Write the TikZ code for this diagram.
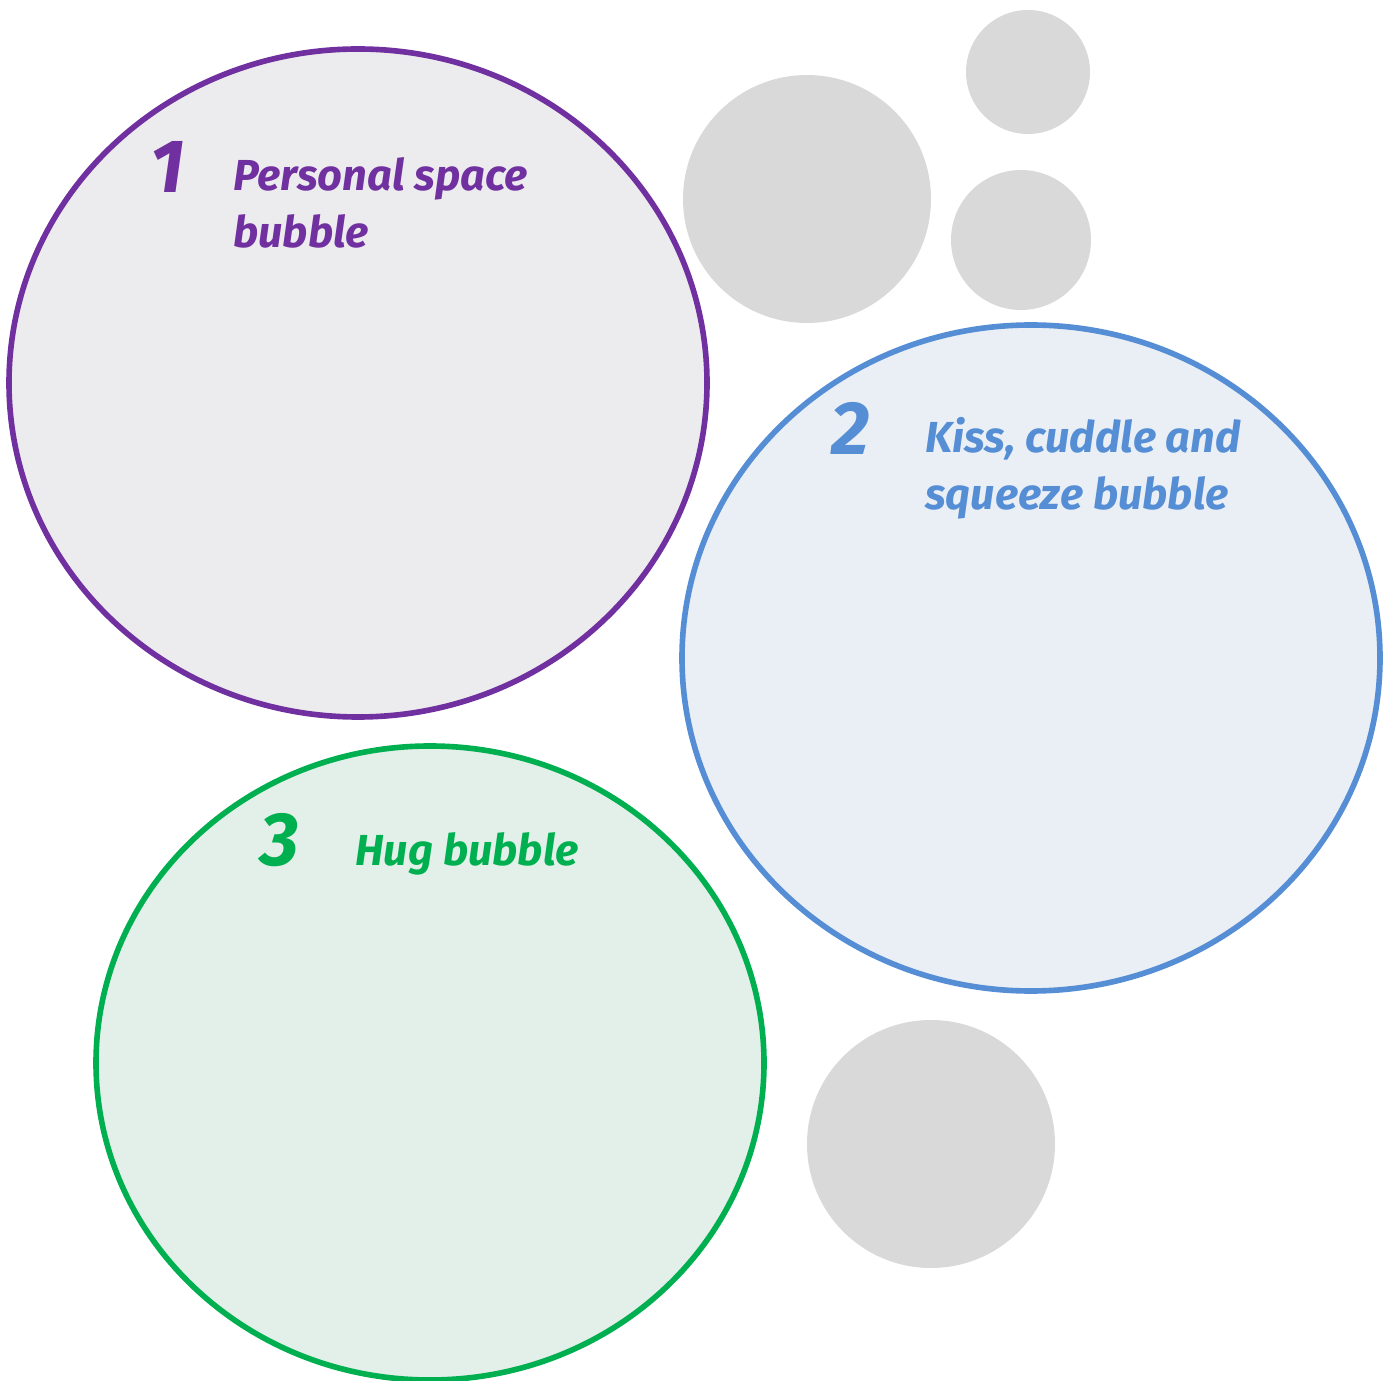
\documentclass[tikz,border=0pt]{standalone}
\usepackage{fontspec}
\setmainfont{Fira Sans}
\usetikzlibrary{positioning}
\definecolor{purpleline}{HTML}{7030A0}
\definecolor{purplefill}{HTML}{ECEBEE}
\definecolor{blueline}{HTML}{558ED5}
\definecolor{bluefill}{HTML}{EAEFF5}
\definecolor{greenline}{HTML}{00B050}
\definecolor{greenfill}{HTML}{E3F0EA}
\definecolor{dotgrey}{HTML}{D9D9D9}
\tikzset{
  bubble/.style={line width=3.2pt},
  dot/.style={fill=dotgrey, draw=none},
  num/.style={font=\fontsize{43}{43}\selectfont\bfseries\itshape, anchor=base west, inner sep=0pt},
  caption/.style={font=\fontsize{24.7}{32.5}\selectfont\bfseries\itshape, anchor=base west, inner sep=0pt, align=left},
}
\begin{document}
\begin{tikzpicture}[x=0.02cm, y=-0.02cm]
  \useasboundingbox (0,0) rectangle (1393,1381);

  % small grey dots
  \fill[dot] (807,199) circle [radius=124];
  \fill[dot] (1028,72) circle [radius=62];
  \fill[dot] (1021,240) circle [radius=70];
  \fill[dot] (931,1144) circle [radius=124];

  % the three bubbles
  \draw[bubble, draw=purpleline, fill=purplefill] (358,383) ellipse [x radius=349, y radius=334];
  \draw[bubble, draw=blueline, fill=bluefill] (1031,658) ellipse [x radius=349, y radius=333];
  \draw[bubble, draw=greenline, fill=greenfill] (430,1063) ellipse [x radius=334, y radius=317];

  % numbers and captions (captions anchored on their last line)
  \node[num, text=purpleline] (n1) at (150,193) {1};
  \node[caption, text=purpleline] (t1) at (233,248) {Personal space\\bubble};

  \node[num, text=blueline] (n2) at (831,455) {2};
  \node[caption, text=blueline] (t2) at (925,510) {Kiss, cuddle and\\squeeze bubble};

  \node[num, text=greenline] (n3) at (260,865) {3};
  \node[caption, text=greenline] (t3) at (355,865) {Hug bubble};
\end{tikzpicture}
\end{document}
